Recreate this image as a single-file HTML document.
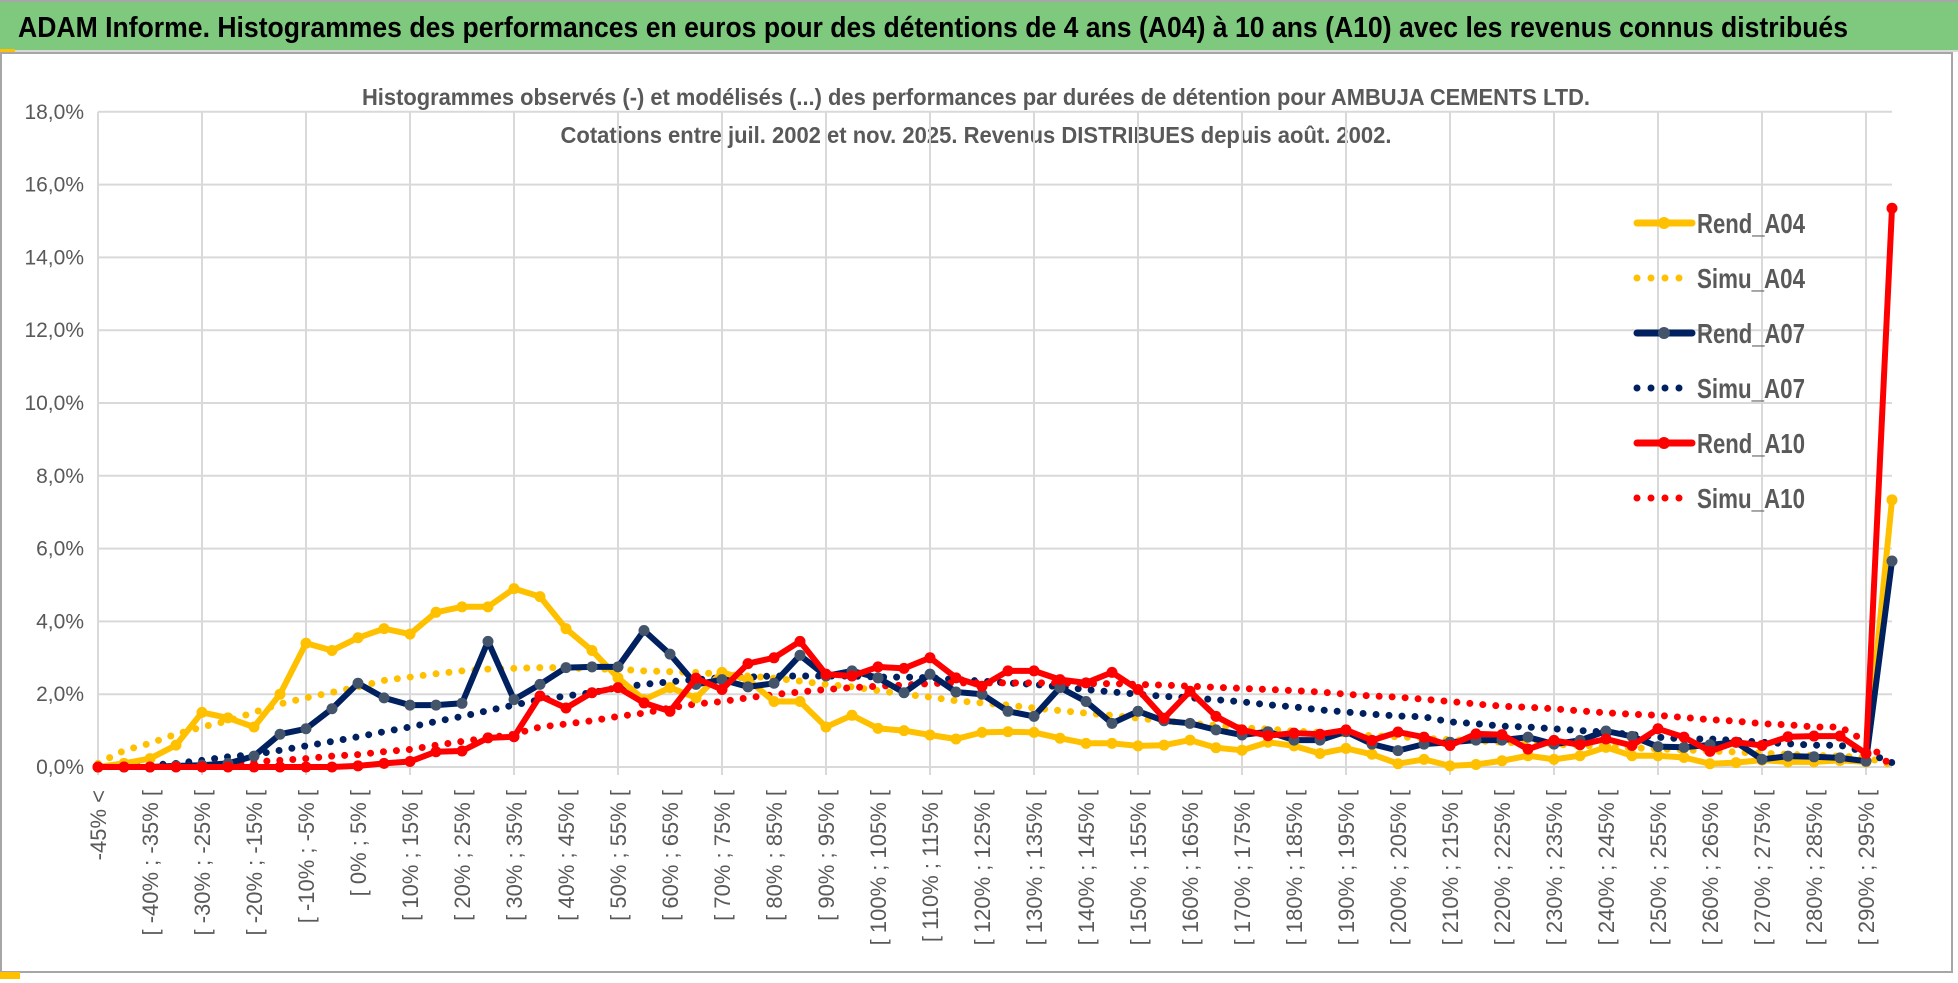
<!DOCTYPE html>
<html><head><meta charset="utf-8">
<style>
html,body{margin:0;padding:0;background:#fff;}
svg{display:block;}
text{font-family:"Liberation Sans Narrow","Liberation Sans",sans-serif;}
</style></head>
<body>
<svg id="chart" width="1958" height="983" viewBox="0 0 1958 983" xmlns="http://www.w3.org/2000/svg">
  <rect x="0" y="0" width="1958" height="983" fill="#fff"/>
  <rect x="0" y="2" width="1958" height="48" fill="#7FC97F"/>
  <line x1="0" y1="1" x2="1958" y2="1" stroke="#A6A6A6" stroke-width="2"/>
  <line x1="0" y1="51" x2="1958" y2="51" stroke="#D9D9D9" stroke-width="2"/>
  <rect x="0" y="49" width="15" height="3" fill="#FFC000"/>
  <text x="18" y="37" font-size="29" font-weight="bold" fill="#000" textLength="1830" lengthAdjust="spacingAndGlyphs">ADAM Informe. Histogrammes des performances en euros pour des détentions de 4 ans (A04) à 10 ans (A10) avec les revenus connus distribués</text>
  <rect x="1" y="53" width="1951" height="919" fill="none" stroke="#A6A6A6" stroke-width="2"/>
  <rect x="0" y="972" width="20" height="7" fill="#FFC000"/>
  <text x="976" y="105" font-size="23" font-weight="bold" fill="#595959" text-anchor="middle" textLength="1228" lengthAdjust="spacingAndGlyphs">Histogrammes observés (-) et modélisés (...) des performances par durées de détention pour AMBUJA CEMENTS LTD.</text>
  <text x="976" y="143" font-size="23" font-weight="bold" fill="#595959" text-anchor="middle" textLength="831" lengthAdjust="spacingAndGlyphs">Cotations entre juil. 2002 et nov. 2025. Revenus DISTRIBUES depuis août. 2002.</text>
  <g id="grid"></g>
  <g id="yaxis"></g>
  <g id="xaxis"></g>
  <g id="series"></g>
  <g id="legend"></g>
</svg>
<script>
const yTicks = [0,2,4,6,8,10,12,14,16,18];
const rendA04 = [0,0.1,0.23,0.6,1.5,1.35,1.1,2.0,3.4,3.2,3.55,3.8,3.65,4.25,4.4,4.4,4.9,4.68,3.8,3.2,2.45,1.85,2.18,1.9,2.6,2.4,1.8,1.8,1.1,1.42,1.06,1.0,0.88,0.77,0.95,0.97,0.95,0.79,0.65,0.65,0.58,0.6,0.74,0.53,0.46,0.68,0.58,0.37,0.51,0.35,0.09,0.21,0.03,0.07,0.17,0.31,0.21,0.31,0.54,0.31,0.31,0.26,0.09,0.12,0.19,0.14,0.14,0.18,0.14,7.34];
const simuA04 = [0.1,0.45,0.65,0.9,1.1,1.27,1.5,1.73,1.9,2.05,2.2,2.38,2.47,2.56,2.64,2.69,2.71,2.73,2.73,2.69,2.69,2.64,2.62,2.6,2.55,2.5,2.44,2.36,2.27,2.2,2.1,2.0,1.92,1.82,1.76,1.7,1.62,1.55,1.48,1.42,1.34,1.27,1.2,1.14,1.08,1.04,0.99,0.95,0.91,0.86,0.83,0.79,0.75,0.72,0.68,0.65,0.62,0.59,0.56,0.53,0.5,0.47,0.44,0.41,0.38,0.35,0.32,0.3,0.26,0.05];
const rendA07 = [0,0,0,0.03,0.05,0.1,0.3,0.9,1.05,1.6,2.3,1.9,1.7,1.7,1.75,3.45,1.85,2.27,2.73,2.75,2.75,3.75,3.1,2.27,2.4,2.2,2.3,3.07,2.5,2.64,2.45,2.04,2.55,2.06,2.0,1.53,1.39,2.18,1.8,1.2,1.53,1.27,1.2,1.02,0.88,0.97,0.74,0.74,0.97,0.63,0.45,0.63,0.68,0.74,0.74,0.82,0.63,0.73,0.99,0.84,0.56,0.54,0.61,0.68,0.21,0.3,0.28,0.25,0.16,5.66];
const simuA07 = [0,0.02,0.05,0.1,0.18,0.28,0.34,0.46,0.58,0.7,0.83,0.97,1.1,1.25,1.39,1.55,1.7,1.85,1.95,2.04,2.18,2.27,2.34,2.4,2.45,2.47,2.5,2.5,2.5,2.5,2.47,2.47,2.45,2.4,2.36,2.31,2.27,2.2,2.13,2.06,2.0,1.94,1.9,1.85,1.79,1.71,1.65,1.57,1.51,1.45,1.4,1.38,1.24,1.19,1.12,1.1,1.05,1.0,0.96,0.89,0.82,0.77,0.77,0.73,0.68,0.64,0.6,0.6,0.4,0.12];
const rendA10 = [0,0,0,0,0,0,0,0,0,0,0.03,0.1,0.15,0.42,0.44,0.8,0.83,1.95,1.62,2.04,2.18,1.76,1.53,2.44,2.13,2.84,3.0,3.45,2.55,2.5,2.75,2.71,3.0,2.45,2.22,2.64,2.64,2.4,2.31,2.6,2.13,1.34,2.08,1.39,1.02,0.86,0.93,0.9,1.02,0.73,0.96,0.82,0.59,0.91,0.89,0.49,0.73,0.61,0.77,0.59,1.05,0.82,0.43,0.68,0.59,0.83,0.85,0.85,0.37,15.35];
const simuA10 = [0.02,0.02,0.02,0.03,0.05,0.1,0.14,0.18,0.23,0.3,0.34,0.42,0.48,0.6,0.7,0.8,0.9,1.1,1.18,1.27,1.39,1.48,1.62,1.73,1.8,1.9,1.99,2.06,2.13,2.18,2.22,2.25,2.29,2.31,2.31,2.31,2.31,2.31,2.29,2.29,2.27,2.25,2.22,2.19,2.16,2.13,2.1,2.06,2.0,1.95,1.92,1.86,1.8,1.73,1.67,1.64,1.6,1.54,1.49,1.45,1.42,1.36,1.3,1.26,1.19,1.16,1.1,1.1,0.7,0.0];
const legendNames = ["Rend_A04","Simu_A04","Rend_A07","Simu_A07","Rend_A10","Simu_A10"];

const NS = "http://www.w3.org/2000/svg";
const X0 = 98, DX = 26, Y0 = 767, YPX = 36.4;
function xs(i){ return X0 + DX*i; }
function ys(v){ return Y0 - v*YPX; }
function mk(tag, attrs, parent){ const e=document.createElementNS(NS,tag); for(const k in attrs) e.setAttribute(k,attrs[k]); parent.appendChild(e); return e; }
const N = rendA04.length;
function catLabel(i){ if(i===0) return "-45% <"; const a=-45+5*(i-1); return "[ "+a+"% ; "+(a+5)+"% ["; }

const grid=document.getElementById('grid');
yTicks.forEach(t=>{
  const l=mk('line',{x1:X0,x2:xs(N-1),y1:ys(t),y2:ys(t),stroke:'#D9D9D9','stroke-width':2},grid);
  
  
});
for(let i=0;i<N;i+=4){
  const l=mk('line',{x1:xs(i),x2:xs(i),y1:ys(18),y2:Y0+8,stroke:'#D9D9D9','stroke-width':2},grid);
  
  
}
const yax=document.getElementById('yaxis');
yTicks.forEach(t=>{
  const tx=mk('text',{x:84,y:ys(t)+7,'font-size':21,fill:'#595959','text-anchor':'end'},yax);
  tx.textContent=t.toFixed(1).replace('.',',')+'%';
  
  
});
const xax=document.getElementById('xaxis');
for(let i=0;i<N;i+=2){
  if(i>68) break;
  const x=xs(i)+8, y=790;
  const tx=mk('text',{x:x,y:y,fill:'#595959','text-anchor':'end',style:'font-family:"Liberation Sans",sans-serif;font-size:22px',transform:'rotate(-90 '+x+' '+y+')'},xax);
  tx.textContent=catLabel(i);
  
  
}

const seriesG=document.getElementById('series');
const styles = {
  simuA04:{color:'#FFC000',dotted:true},
  simuA07:{color:'#002060',dotted:true},
  simuA10:{color:'#FF0000',dotted:true},
  rendA04:{color:'#FFC000',marker:'#FFC000'},
  rendA07:{color:'#002060',marker:'#44546A'},
  rendA10:{color:'#FF0000',marker:'#FF0000'}
};
function drawSeries(data,key){
  const st=styles[key];
  const pts=data.map((v,i)=>xs(i).toFixed(1)+','+ys(v).toFixed(1)).join(' ');
  const g=mk('g',{},seriesG);
  
  
  if(st.dotted){
    const p=mk('polyline',{points:pts,fill:'none',stroke:st.color,'stroke-width':7,'stroke-linecap':'round','stroke-dasharray':'0 13'},g);
    
    
  } else {
    const p=mk('polyline',{points:pts,fill:'none',stroke:st.color,'stroke-width':6,'stroke-linejoin':'round'},g);
    
    
    data.forEach((v,i)=>{
      const c=mk('circle',{cx:xs(i),cy:ys(v),r:5.5,fill:st.marker},g);
      
      
    });
  }
}
drawSeries(simuA04,'simuA04');
drawSeries(simuA07,'simuA07');
drawSeries(simuA10,'simuA10');
drawSeries(rendA04,'rendA04');
drawSeries(rendA07,'rendA07');
drawSeries(rendA10,'rendA10');

const lg=document.getElementById('legend');
const lkeys=['rendA04','simuA04','rendA07','simuA07','rendA10','simuA10'];
legendNames.forEach((n,k)=>{
  const y=223+55*k, st=styles[lkeys[k]];
  const g=mk('g',{},lg);
  
  
  if(st.dotted){
    mk('line',{x1:1637,x2:1692,y1:y,y2:y,stroke:st.color,'stroke-width':7,'stroke-linecap':'round','stroke-dasharray':'0 14'},g);
  } else {
    mk('line',{x1:1637,x2:1692,y1:y,y2:y,stroke:st.color,'stroke-width':7,'stroke-linecap':'round'},g);
    mk('circle',{cx:1664,cy:y,r:6,fill:st.marker},g);
  }
  const t=mk('text',{x:1697,y:y+10,'font-size':28,fill:'#595959','font-weight':'bold',textLength:108,lengthAdjust:'spacingAndGlyphs'},g);
  t.textContent=n;
});
</script>
</body></html>
